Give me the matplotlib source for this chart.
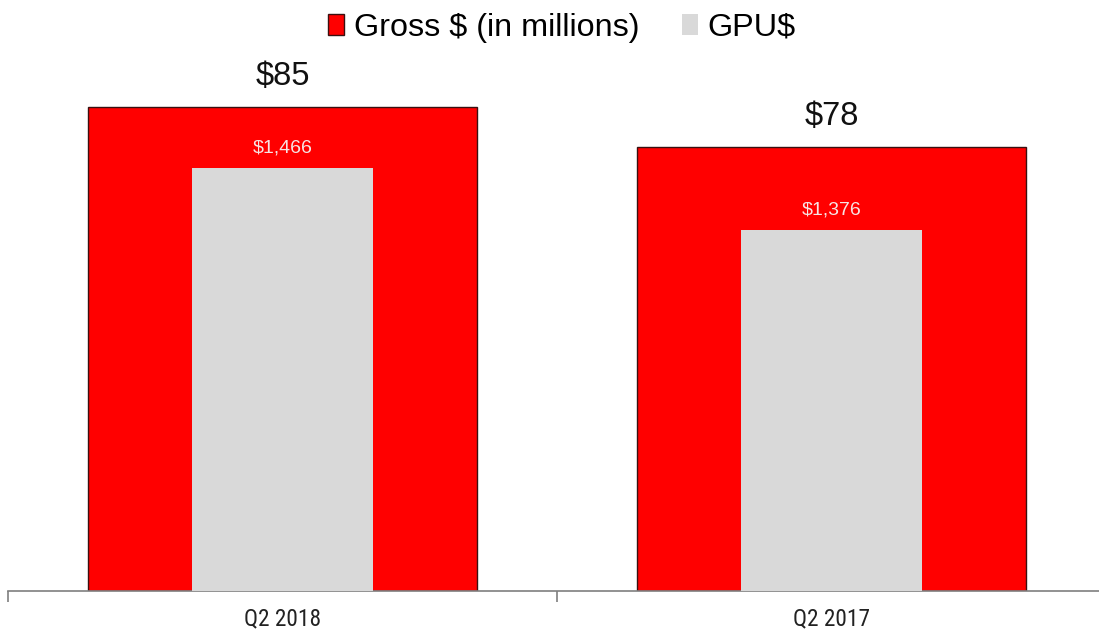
import matplotlib
matplotlib.use("Agg")
import matplotlib.pyplot as plt
from matplotlib.patches import Patch
from matplotlib import font_manager

categories = ["Q2 2018", "Q2 2017"]
gross_millions = [85, 78]
gpu_dollars = [1466, 1376]
gross_labels = ["$85", "$78"]
gpu_labels = ["$1,466", "$1,376"]

RED = "#ff0000"
GRAY = "#d9d9d9"
AXIS_GRAY = "#7f7f7f"

plt.rcParams["font.family"] = ["Liberation Sans", "DejaVu Sans"]

# Pick a condensed face for the category labels if one is installed
installed = {f.name for f in font_manager.fontManager.ttflist}
narrow = next((n for n in ("Liberation Sans Narrow", "DejaVu Sans Condensed",
                           "Roboto Condensed", "Open Sans Condensed")
               if n in installed), None)

W, H = 1099, 633
fig = plt.figure(figsize=(W / 100, H / 100), dpi=100)
ax = fig.add_axes([8 / W, 42 / H, 1098 / W, 512.5 / H])
ax2 = ax.twinx()

x = list(range(len(categories)))

# Gross dollars on the primary axis (wide red bars)
ax.bar(x, gross_millions, width=0.709, color=RED, edgecolor="#3a1010",
       linewidth=1.0, zorder=2)
ax.set_ylim(0, 90)
ax.set_xlim(-0.5, len(categories) - 0.5)

# GPU dollars on the secondary axis (narrow gray bars)
ax2.bar(x, gpu_dollars, width=0.33, color=GRAY, linewidth=0, zorder=3)
ax2.set_ylim(849, 1597)

for xi, v, lab in zip(x, gross_millions, gross_labels):
    ax.annotate(lab, xy=(xi, v), xytext=(0, 22), textcoords="offset points",
                ha="center", va="center", fontsize=23.5, color="#111111")
for xi, v, lab in zip(x, gpu_dollars, gpu_labels):
    ax2.annotate(lab, xy=(xi, v), xytext=(0, 14.5), textcoords="offset points",
                 ha="center", va="center", fontsize=14, color="#f6e4e4")

# Axis styling: only the category axis line with boundary ticks
for a in (ax, ax2):
    for side in ("left", "right", "top"):
        a.spines[side].set_visible(False)
    a.set_yticks([])
ax.spines["bottom"].set_color(AXIS_GRAY)
ax.spines["bottom"].set_linewidth(1.2)
ax2.spines["bottom"].set_visible(False)

ax.set_xticks([-0.5, 0.5, 1.5])
ax.set_xticklabels([])
ax.tick_params(axis="x", which="major", direction="out", length=8,
               color=AXIS_GRAY, width=1.2)
ax.set_xticks(x, minor=True)
ax.set_xticklabels(categories, minor=True)
ax.tick_params(axis="x", which="minor", length=0, pad=12,
               labelcolor="#222222")
for t in ax.get_xticklabels(minor=True):
    if narrow:
        t.set_family([narrow, "Liberation Sans"])
        t.set_fontsize(16.8)
    else:
        t.set_fontsize(15)

handles = [
    Patch(facecolor=RED, edgecolor="#3a1010", linewidth=1.0,
          label="Gross $ (in millions)"),
    Patch(facecolor=GRAY, edgecolor="none", label="GPU$"),
]
fig.legend(handles=handles, loc="center", bbox_to_anchor=(562 / W, 1 - 28 / H),
           ncol=2, frameon=False, fontsize=23.3, handlelength=0.5,
           handleheight=0.65, handletextpad=0.3, columnspacing=1.3)

fig.savefig("out.png", dpi=100)
